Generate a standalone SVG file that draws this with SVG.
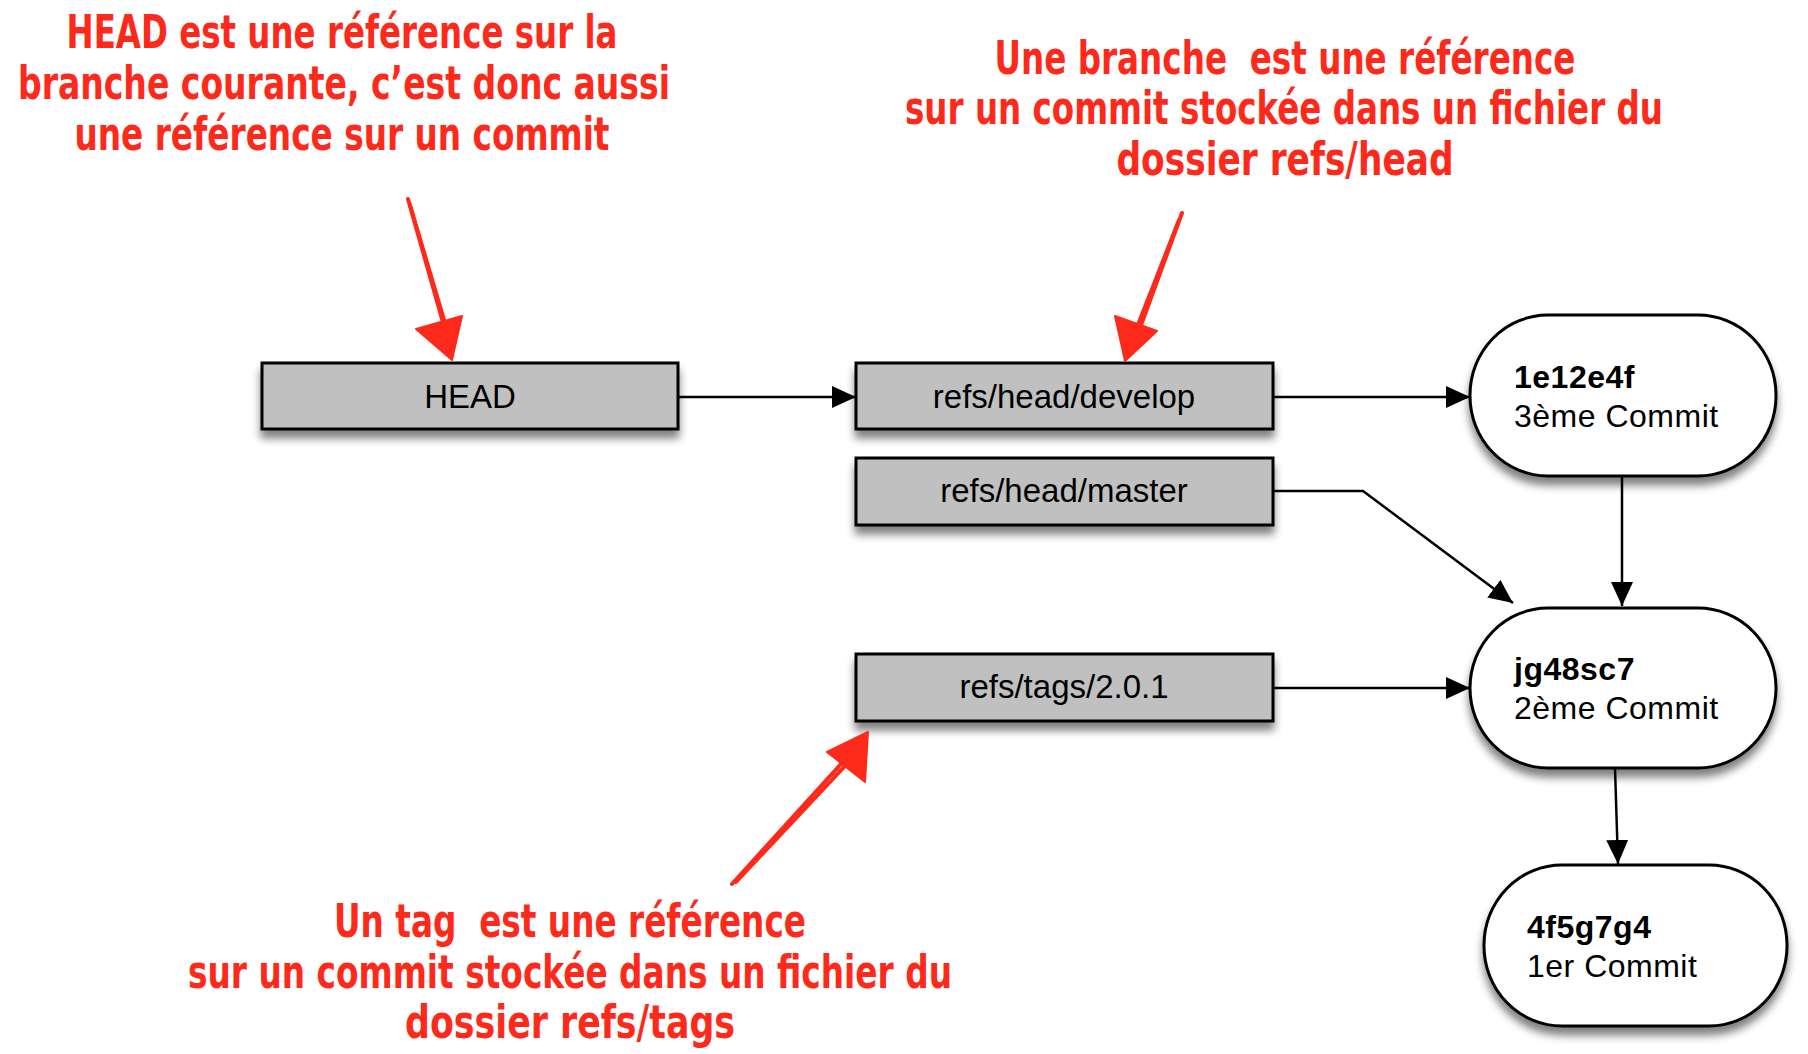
<svg xmlns="http://www.w3.org/2000/svg" width="1808" height="1054" viewBox="0 0 1808 1054">
<defs>
<filter id="sh" x="-10%" y="-20%" width="120%" height="160%">
<feGaussianBlur in="SourceAlpha" stdDeviation="4"/>
<feOffset dx="0" dy="8" result="b"/>
<feComponentTransfer><feFuncA type="linear" slope="0.5"/></feComponentTransfer>
<feMerge><feMergeNode/><feMergeNode in="SourceGraphic"/></feMerge>
</filter>
<marker id="ah" markerUnits="userSpaceOnUse" markerWidth="24" markerHeight="22" refX="24" refY="11" orient="auto">
<path d="M0,0 L24,11 L0,22 Z" fill="#000"/>
</marker>
</defs>
<style>
.ref{fill:#c0c0c0;stroke:#000;stroke-width:3}
.cm{fill:#fff;stroke:#000;stroke-width:3}
.lbl{font-family:"Liberation Sans",Arial,sans-serif;font-size:33px;fill:#000;text-anchor:middle}
.ct{font-family:"Liberation Sans",Arial,sans-serif;font-size:32px;fill:#000;letter-spacing:0.5px}
.ct .b{font-weight:bold}
.note{font-family:"Liberation Sans Narrow","DejaVu Sans Condensed",sans-serif;font-weight:bold;font-size:46px;fill:#fd2a1c;text-anchor:middle}
.con{fill:none;stroke:#000;stroke-width:2.5;marker-end:url(#ah)}
.red{fill:none;stroke:#fd2a1c;stroke-width:4;stroke-linecap:round}
.redh{fill:#fd2a1c;stroke:#fd2a1c;stroke-width:2;stroke-linejoin:round}
</style>
<rect width="1808" height="1054" fill="#fff"/>

<g id="connectors">
<path class="con" d="M678,397 H856"/>
<path class="con" d="M1273,397 H1470"/>
<path class="con" d="M1273,491 H1363 L1513,603"/>
<path class="con" d="M1273,688 H1470"/>
<path class="con" d="M1622,476 V606"/>
<path class="con" d="M1615,768 L1618,864"/>
</g>

<g id="head">
<rect class="ref" x="262" y="363" width="416" height="66" filter="url(#sh)"/>
<text class="lbl" x="470" y="408">HEAD</text>
</g>
<g id="develop">
<rect class="ref" x="856" y="363" width="417" height="66" filter="url(#sh)"/>
<text class="lbl" x="1064" y="408">refs/head/develop</text>
</g>
<g id="master">
<rect class="ref" x="856" y="458" width="417" height="67" filter="url(#sh)"/>
<text class="lbl" x="1064" y="502">refs/head/master</text>
</g>
<g id="tags">
<rect class="ref" x="856" y="654" width="417" height="67" filter="url(#sh)"/>
<text class="lbl" x="1064" y="698">refs/tags/2.0.1</text>
</g>

<g id="commit3">
<rect class="cm" x="1470" y="315" width="306" height="161" rx="78" ry="80" filter="url(#sh)"/>
<text class="ct" x="1514" y="388"><tspan class="b">1e12e4f</tspan><tspan x="1514" y="427">3ème Commit</tspan></text>
</g>
<g id="commit2">
<rect class="cm" x="1470" y="608" width="306" height="160" rx="78" ry="80" filter="url(#sh)"/>
<text class="ct" x="1514" y="680"><tspan class="b">jg48sc7</tspan><tspan x="1514" y="719">2ème Commit</tspan></text>
</g>
<g id="commit1">
<rect class="cm" x="1484" y="865" width="303" height="161" rx="78" ry="80" filter="url(#sh)"/>
<text class="ct" x="1527" y="938"><tspan class="b">4f5g7g4</tspan><tspan x="1527" y="977">1er Commit</tspan></text>
</g>

<g id="note-head">
<text class="note" x="342" y="48" textLength="551" lengthAdjust="spacingAndGlyphs">HEAD est une référence sur la</text>
<text class="note" x="344" y="99" textLength="652" lengthAdjust="spacingAndGlyphs">branche courante, c’est donc aussi</text>
<text class="note" x="342" y="150" textLength="535" lengthAdjust="spacingAndGlyphs">une référence sur un commit</text>
<path class="red" d="M408,199 L444,326"/>
<path class="red" d="M410,205 L447,330" stroke-width="2"/>
<path class="redh" d="M416,329 L462,316 L452,360 Z"/>
</g>

<g id="note-branch">
<text class="note" x="1285" y="74" textLength="581" lengthAdjust="spacingAndGlyphs" xml:space="preserve">Une branche  est une référence</text>
<text class="note" x="1284" y="124" textLength="758" lengthAdjust="spacingAndGlyphs">sur un commit stockée dans un fichier du</text>
<text class="note" x="1285" y="175" textLength="337" lengthAdjust="spacingAndGlyphs">dossier refs/head</text>
<path class="red" d="M1182,213 L1140,328"/>
<path class="red" d="M1179,220 L1136,330" stroke-width="2"/>
<path class="redh" d="M1115,316 L1157,331 L1125,361 Z"/>
</g>

<g id="note-tag">
<text class="note" x="570" y="937" textLength="472" lengthAdjust="spacingAndGlyphs" xml:space="preserve">Un tag  est une référence</text>
<text class="note" x="570" y="988" textLength="764" lengthAdjust="spacingAndGlyphs">sur un commit stockée dans un fichier du</text>
<text class="note" x="570" y="1038" textLength="330" lengthAdjust="spacingAndGlyphs">dossier refs/tags</text>
<path class="red" d="M732,884 L842,763"/>
<path class="red" d="M736,882 L845,766" stroke-width="2"/>
<path class="redh" d="M827,752 L865,782 L868,732 Z"/>
</g>
</svg>
